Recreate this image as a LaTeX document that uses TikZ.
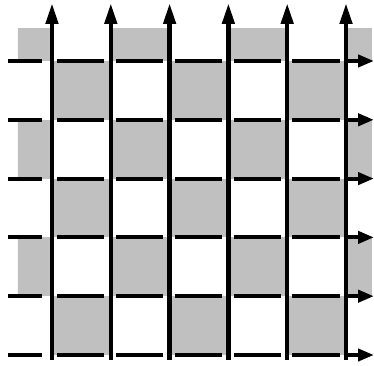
\documentclass[tikz,border=0pt]{standalone}
\usepackage{xcolor}
\usepackage{tikz}
\usetikzlibrary{arrows.meta}
\definecolor{cellgray}{HTML}{C0C0C0}

\begin{document}
\begin{tikzpicture}[x=58.8pt,y=58.8pt,
    vline/.style={line width=4.5pt,-{Triangle[length=21pt,width=12pt]}},
    hdash/.style={line width=4pt}]
  \useasboundingbox (-0.884,-0.170) rectangle (5.476,6.037);

  % checkerboard
  \begin{scope}
    \clip (-0.58,0) rectangle (5.44,5.55);
    \foreach \i in {-1,...,5}
      \foreach \j in {0,...,5} {
        \pgfmathtruncatemacro\cellodd{mod(\i+\j+10,2)}
        \ifnum\cellodd=0 \fill[cellgray] (\i,\j) rectangle ++(1,1); \fi
      }
  \end{scope}

  % rows of dashes
  \foreach \j in {0,...,5} {
    \draw[hdash] (-0.75,\j) -- (-0.17,\j);
    \foreach \i in {0,...,4}
      \draw[hdash] (\i+0.09,\j) -- (\i+0.89,\j);
    \draw[hdash,-{Triangle[length=16pt,width=12pt]}] (5.04,\j) -- (5.476,\j);
  }

  % columns
  \foreach \i in {0,...,5}
    \draw[vline] (\i,-0.085) -- (\i,5.986);
\end{tikzpicture}
\end{document}
